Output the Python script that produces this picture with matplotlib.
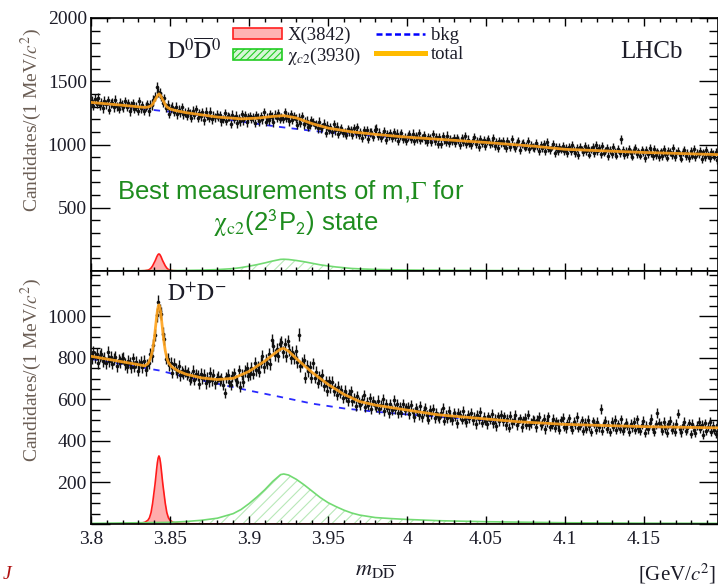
import numpy as np
import matplotlib
matplotlib.use('Agg')
import matplotlib.pyplot as plt
from matplotlib.patches import Patch
from matplotlib.lines import Line2D
from matplotlib.ticker import MultipleLocator

plt.rcParams['font.family'] = 'serif'
plt.rcParams['font.serif'] = ['Liberation Serif', 'DejaVu Serif']
plt.rcParams['mathtext.fontset'] = 'stix'
plt.rcParams['hatch.linewidth'] = 0.8

# 1 MeV bins from 3.800 to 4.200 GeV
mass = 3.8005 + 0.001 * np.arange(400)

# D0 D0bar candidates per bin
d0d0_counts = [
    1345, 1307, 1361, 1321, 1369, 1310, 1331, 1288, 1345, 1319, 1349, 1275, 1327, 1332, 1295, 1352, 1302, 1283, 1329, 1312,
    1294, 1340, 1300, 1325, 1264, 1310, 1327, 1281, 1299, 1266, 1341, 1285, 1310, 1268, 1298, 1319, 1263, 1314, 1309, 1352,
    1378, 1455, 1412, 1408, 1378, 1329, 1365, 1291, 1312, 1245, 1286, 1300, 1260, 1299, 1239, 1273, 1256, 1293, 1238, 1252,
    1228, 1263, 1249, 1210, 1267, 1233, 1280, 1211, 1248, 1223, 1253, 1192, 1259, 1228, 1210, 1258, 1199, 1229, 1215, 1237,
    1217, 1232, 1184, 1201, 1248, 1189, 1224, 1217, 1163, 1234, 1202, 1226, 1167, 1207, 1184, 1241, 1192, 1231, 1176, 1214,
    1225, 1201, 1214, 1169, 1233, 1212, 1182, 1223, 1198, 1254, 1179, 1211, 1192, 1238, 1221, 1174, 1234, 1209, 1249, 1203,
    1217, 1201, 1255, 1212, 1224, 1184, 1239, 1193, 1225, 1204, 1155, 1211, 1173, 1223, 1159, 1181, 1188, 1141, 1158, 1191,
    1179, 1153, 1161, 1127, 1180, 1127, 1140, 1166, 1094, 1150, 1114, 1136, 1095, 1162, 1111, 1141, 1081, 1116, 1128, 1089,
    1096, 1076, 1122, 1104, 1112, 1073, 1127, 1088, 1135, 1076, 1097, 1055, 1112, 1085, 1115, 1042, 1094, 1099, 1061, 1118,
    1125, 1069, 1094, 1053, 1083, 1104, 1038, 1083, 1069, 1093, 1055, 1101, 1061, 1086, 1026, 1071, 1088, 1042, 1061, 1028,
    1064, 1081, 1044, 1086, 1028, 1064, 1048, 1087, 1033, 1049, 1077, 1040, 1018, 1061, 1049, 1023, 1083, 1029, 1062, 1002,
    1062, 1002, 1070, 1040, 1022, 1071, 1013, 1043, 1031, 1053, 1013, 1049, 1035, 997, 1054, 1022, 1070, 1001, 1039, 1014,
    997, 1037, 1059, 1004, 1025, 979, 1041, 1013, 1033, 987, 1025, 1042, 1001, 1011, 1052, 987, 1021, 974, 1028, 1010,
    1024, 998, 971, 1029, 1007, 981, 1043, 987, 970, 1011, 1027, 956, 1001, 1015, 976, 987, 1025, 964, 998, 978,
    972, 1015, 986, 946, 998, 972, 1003, 951, 1016, 972, 955, 984, 1005, 929, 977, 945, 984, 960, 992, 950,
    971, 931, 981, 949, 997, 957, 935, 972, 918, 984, 961, 940, 988, 948, 970, 920, 960, 977, 932, 994,
    946, 970, 922, 986, 936, 952, 976, 911, 958, 927, 977, 945, 913, 962, 934, 1040, 956, 918, 950, 926,
    967, 934, 905, 955, 973, 921, 945, 912, 959, 939, 895, 954, 924, 974, 931, 911, 964, 919, 945, 903,
    945, 911, 964, 928, 897, 950, 939, 915, 970, 902, 932, 952, 919, 889, 943, 956, 908, 932, 895, 946,
    913, 962, 900, 934, 923, 951, 887, 937, 903, 955, 915, 892, 940, 925, 905, 944, 879, 931, 949, 910,
]

# D+ D- candidates per bin
dpdm_counts = [
    800, 831, 803, 819, 777, 808, 819, 786, 799, 774, 827, 786, 803, 773, 794, 807, 761, 792, 782, 797,
    799, 772, 756, 785, 776, 757, 798, 758, 781, 738, 769, 781, 755, 784, 741, 765, 774, 821, 811, 864,
    911, 1007, 1071, 1027, 1013, 917, 891, 797, 797, 764, 777, 729, 772, 747, 730, 761, 717, 736, 724, 737,
    719, 730, 695, 706, 738, 696, 721, 714, 676, 725, 702, 718, 677, 705, 688, 728, 692, 718, 678, 703,
    710, 692, 703, 671, 630, 706, 720, 684, 670, 712, 726, 693, 685, 741, 661, 720, 686, 737, 752, 714,
    722, 753, 724, 775, 740, 759, 734, 778, 809, 757, 789, 776, 819, 771, 888, 859, 816, 843, 809, 865,
    878, 827, 867, 809, 883, 839, 798, 830, 801, 832, 781, 913, 760, 778, 792, 704, 763, 737, 756, 705,
    774, 705, 732, 680, 711, 693, 720, 666, 688, 642, 687, 658, 686, 642, 656, 620, 662, 632, 645, 609,
    642, 614, 594, 626, 639, 592, 608, 570, 618, 590, 573, 597, 620, 563, 590, 571, 605, 553, 591, 575,
    565, 595, 554, 575, 600, 543, 579, 561, 535, 580, 549, 598, 553, 578, 535, 562, 537, 579, 550, 561,
    562, 528, 574, 538, 516, 559, 545, 526, 570, 515, 546, 557, 524, 503, 551, 530, 555, 510, 534, 518,
    509, 535, 559, 498, 527, 511, 545, 515, 500, 535, 521, 486, 537, 525, 503, 544, 506, 491, 526, 510,
    534, 499, 517, 482, 527, 505, 541, 488, 516, 497, 481, 519, 503, 531, 487, 506, 471, 519, 494, 524,
    494, 518, 476, 508, 463, 521, 487, 499, 524, 475, 492, 509, 465, 499, 513, 479, 527, 475, 487, 502,
    498, 465, 503, 516, 476, 484, 507, 456, 491, 518, 469, 478, 508, 463, 495, 482, 455, 499, 513, 468,
    461, 486, 509, 469, 454, 493, 481, 515, 464, 474, 499, 448, 487, 460, 503, 471, 443, 494, 484, 454,
    491, 466, 555, 449, 486, 498, 459, 478, 443, 493, 469, 501, 453, 481, 460, 505, 449, 466, 488, 473,
    444, 483, 467, 492, 454, 505, 461, 448, 478, 496, 439, 474, 456, 486, 508, 458, 444, 481, 536, 489,
    474, 449, 491, 461, 438, 480, 497, 454, 469, 444, 483, 532, 457, 441, 476, 491, 450, 461, 485, 434,
    483, 454, 439, 473, 493, 459, 478, 430, 486, 448, 468, 491, 443, 474, 455, 434, 479, 496, 451, 469,
]

# X(3842) component, read at points along the curve
x3842_m = [3.800, 3.823, 3.831, 3.834, 3.836, 3.837, 3.838, 3.839, 3.840, 3.8405, 3.841, 3.8415, 3.842, 3.8425,
           3.843, 3.8435, 3.844, 3.8445, 3.845, 3.8455, 3.846, 3.847, 3.848, 3.849, 3.850, 3.852, 3.855, 3.863,
           3.900, 4.200]
x3842_d0 = [0, 0.4, 1.2, 3, 7, 12, 23, 41, 66, 78, 92, 108, 121, 131,
            135, 131, 121, 108, 92, 78, 66, 41, 23, 12, 7, 3, 1.2, 0.4, 0, 0]
x3842_dp = [0, 1, 3, 8, 18, 30, 55, 100, 160, 190, 225, 262, 295, 318,
            328, 318, 295, 262, 225, 190, 160, 100, 55, 30, 18, 8, 3, 1, 0, 0]

# chi_c2(3930) component
chic2_m = [3.80, 3.85, 3.86, 3.87, 3.88, 3.89, 3.895, 3.90, 3.905, 3.91, 3.915, 3.92, 3.922, 3.925, 3.93,
           3.935, 3.94, 3.945, 3.95, 3.955, 3.96, 3.965, 3.97, 3.98, 3.99, 4.00, 4.02, 4.05, 4.10, 4.15, 4.20]
chic2_d0 = [1, 3, 5, 7, 11, 19, 27, 38, 50, 64, 79, 92, 93, 91, 83,
            73, 61, 49, 40, 32, 26, 20, 17, 12, 10, 8, 6, 4, 2, 2, 1]
chic2_dp = [3, 8, 12, 18, 28, 50, 70, 98, 130, 165, 205, 238, 241, 236, 215,
            188, 158, 128, 103, 84, 67, 53, 43, 31, 26, 22, 16, 11, 6, 4, 3]

# background
bkg_m = [3.80, 3.843, 3.86, 3.88, 3.90, 3.92, 3.94, 3.96, 3.98, 4.00, 4.05, 4.10, 4.15, 4.20]
bkg_d0 = [1330, 1268, 1246, 1210, 1172, 1138, 1108, 1086, 1068, 1050, 1012, 961, 936, 919]
bkg_dp = [795, 740, 708, 676, 643, 612, 580, 557, 541, 528, 500, 478, 467, 462]

# total fit
tot_d0_m = [3.800, 3.820, 3.834, 3.836, 3.838, 3.839, 3.840, 3.841, 3.842, 3.843, 3.844, 3.845, 3.846, 3.847,
            3.848, 3.850, 3.853, 3.860, 3.880, 3.895, 3.905, 3.915, 3.922, 3.930, 3.940, 3.950, 3.965, 3.980,
            4.000, 4.050, 4.080, 4.100, 4.150, 4.200]
tot_d0 = [1333, 1310, 1293, 1296, 1305, 1318, 1340, 1362, 1385, 1400, 1388, 1363, 1340, 1315,
          1297, 1282, 1270, 1252, 1217, 1203, 1208, 1222, 1228, 1210, 1165, 1130, 1100, 1080,
          1058, 1016, 987, 962, 937, 919]
tot_dp_m = [3.800, 3.815, 3.830, 3.834, 3.836, 3.837, 3.838, 3.839, 3.840, 3.8405, 3.841, 3.8415, 3.842, 3.8425,
            3.843, 3.8435, 3.844, 3.8445, 3.845, 3.8455, 3.846, 3.847, 3.848, 3.849, 3.851, 3.855, 3.860, 3.870,
            3.880, 3.890, 3.900, 3.910, 3.915, 3.920, 3.922, 3.925, 3.930, 3.940, 3.950, 3.960, 3.970, 3.980,
            4.000, 4.020, 4.050, 4.070, 4.100, 4.150, 4.200]
tot_dp = [808, 788, 768, 762, 772, 785, 808, 840, 890, 925, 960, 995, 1025, 1047,
          1056, 1047, 1025, 995, 958, 922, 888, 835, 800, 778, 758, 738, 722, 704,
          696, 702, 735, 785, 815, 843, 846, 833, 797, 730, 673, 625, 590, 573,
          549, 526, 506, 493, 480, 469, 463]

W, H = 718, 586
fig = plt.figure(figsize=(W / 100, H / 100), dpi=100)
ax1 = fig.add_axes([91 / W, 1 - 271 / H, (W - 91) / W, 253 / H])
ax2 = fig.add_axes([91 / W, 1 - 524 / H, (W - 91) / W, 253 / H])

label_col = '#1c1c28'


def draw_panel(ax, counts, red, green, bkg, tot_m, tot):
    counts = np.array(counts, dtype=float)
    ax.fill_between(x3842_m, 0, red, color='#ff3030', alpha=0.4, lw=0, zorder=1)
    ax.plot(x3842_m, red, color='#ff1a1a', lw=1.2, zorder=1.2)
    ax.fill_between(chic2_m, 0, green, facecolor='none', edgecolor='#b8e8b8', hatch='///', lw=0, zorder=1)
    ax.plot(chic2_m, green, color='#72da72', lw=1.2, zorder=1.2)
    ax.plot(bkg_m, bkg, color='#2a2aff', lw=1.3, ls=(0, (3.5, 3.5)), zorder=2)
    ax.errorbar(mass, counts, yerr=np.sqrt(counts), fmt='o', ms=2.6, mew=0, color='#111111',
                ecolor='#111111', elinewidth=1.0, capsize=0, zorder=3)
    ax.plot(tot_m, tot, color='#ffa21a', lw=2.0, alpha=0.9, zorder=4)

    ax.set_xlim(3.8, 3.8 + (W - 91) / 1580)
    ax.xaxis.set_major_locator(MultipleLocator(0.05))
    ax.xaxis.set_minor_locator(MultipleLocator(0.01))
    ax.tick_params(which='both', direction='in', top=True, right=True, width=1.0, color='black')
    ax.tick_params(axis='y', which='major', length=13.5, labelsize=14, pad=3, labelcolor=label_col)
    ax.tick_params(axis='y', which='minor', length=6.8)
    ax.tick_params(axis='x', which='major', length=6, labelsize=14, pad=5, labelcolor=label_col)
    ax.tick_params(axis='x', which='minor', length=3.2)
    for s in ax.spines.values():
        s.set_linewidth(1.2)


draw_panel(ax1, d0d0_counts, x3842_d0, chic2_d0, bkg_d0, tot_d0_m, tot_d0)
draw_panel(ax2, dpdm_counts, x3842_dp, chic2_dp, bkg_dp, tot_dp_m, tot_dp)

ax1.set_ylim(0, 2000)
ax1.set_yticks([0, 500, 1000, 1500, 2000])
ax1.set_yticklabels(['', '500', '1000', '1500', '2000'])
ax1.yaxis.set_minor_locator(MultipleLocator(100))
ax1.set_xticklabels([])

ax2.set_ylim(0, 1219)
ax2.set_yticks([0, 200, 400, 600, 800, 1000])
ax2.set_yticklabels(['', '200', '400', '600', '800', '1000'])
ax2.yaxis.set_minor_locator(MultipleLocator(50))
ax2.set_xticks([3.8, 3.85, 3.9, 3.95, 4.0, 4.05, 4.1, 4.15])
ax2.set_xticklabels(['3.8', '3.85', '3.9', '3.95', '4', '4.05', '4.1', '4.15'])

ylab_col = '#6b5e55'
ax1.set_ylabel('Candidates/(1 MeV/$c^2$)', fontsize=14, color=ylab_col, loc='top')
ax1.yaxis.set_label_coords(-0.075, 0.96)
ax2.set_ylabel('Candidates/(1 MeV/$c^2$)', fontsize=14, color=ylab_col, loc='top')
ax2.yaxis.set_label_coords(-0.075, 0.972)

# channel labels
fig.text(167 / W, 1 - 51 / H, r'$\mathrm{D}^0\overline{\mathrm{D}}^0$', fontsize=17,
         color=label_col, ha='left', va='center')
fig.text(167 / W, 1 - 295 / H, r'$\mathrm{D}^{+}\mathrm{D}^{-}$', fontsize=17,
         color=label_col, ha='left', va='center')
fig.text(651 / W, 1 - 52 / H, 'LHCb', fontsize=18, color=label_col, ha='center', va='center')

# legend
handles = [
    Patch(facecolor=(1, 0.35, 0.35, 0.45), edgecolor='#ff2020', lw=1.2),
    Patch(facecolor='#d6f6d6', edgecolor='#22cc22', hatch='/////', lw=1.2),
    Line2D([], [], color='#0000ff', lw=1.8, ls=(0, (2.4, 1.3))),
    Line2D([], [], color='#ffbb00', lw=3.6),
]
labels = ['X(3842)', r'$\mathrm{\chi}_{c2}$(3930)', 'bkg', 'total']
leg = ax1.legend(handles, labels, ncol=2, loc='upper left',
                 bbox_to_anchor=(233 / W, 1 - 27 / H), bbox_transform=fig.transFigure,
                 frameon=False, fontsize=13.5, handlelength=2.6, handleheight=0.5,
                 handletextpad=0.3, columnspacing=0.8, labelspacing=0.1,
                 borderpad=0, borderaxespad=0)
for t in leg.get_texts():
    t.set_color(label_col)

# x axis label
fig.text(375 / W, 1 - 576 / H, r'$m_{\mathrm{D}\overline{\mathrm{D}}}$', fontsize=16,
         color=label_col, ha='center', va='baseline')
fig.text(716 / W, 1 - 580 / H, r'[GeV/$c^2$]', fontsize=15, color=label_col,
         ha='right', va='baseline')

# annotation
green = '#1e8c1e'
fig.text(291 / W, 1 - 191 / H, r'Best measurements of m,$\Gamma$ for', fontsize=18.5,
         color=green, family='Liberation Sans', ha='center', va='center')
fig.text(296 / W, 1 - 223 / H, r'$\mathrm{\chi}_{\mathrm{c2}}$(2$^{\mathsf{3}}$P$_{\mathsf{2}}$) state',
         fontsize=18.5, color=green, family='Liberation Sans', ha='center', va='center')

fig.text(3 / W, 3 / H, 'J', fontsize=14, style='italic', color='#b01010',
         ha='left', va='bottom')

fig.savefig('out.png', dpi=100)
